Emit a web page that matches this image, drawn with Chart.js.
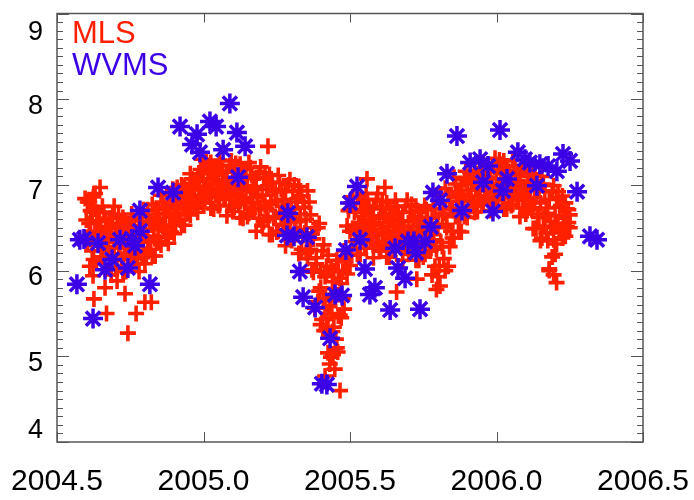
<!DOCTYPE html>
<html>
<head>
<meta charset="utf-8">
<title>MLS / WVMS water vapour</title>
<script src="https://cdn.jsdelivr.net/npm/chart.js@4.4.1/dist/chart.umd.min.js"></script>
<style>
  html, body { margin: 0; padding: 0; background: #fff; }
  canvas { display: block; }
</style>
</head>
<body>
<canvas id="wv-chart" width="694" height="500"></canvas>
<script>
// MLS sampling dates near the station, decimal year
const mlsYear = [
  2004.600, 2004.605, 2004.610, 2004.615, 2004.620, 2004.625, 2004.630, 2004.635, 2004.640, 2004.645,
  2004.650, 2004.655, 2004.660, 2004.665, 2004.670, 2004.675, 2004.680, 2004.685, 2004.690, 2004.695,
  2004.700, 2004.705, 2004.710, 2004.715, 2004.720, 2004.725, 2004.730, 2004.735, 2004.740, 2004.745,
  2004.750, 2004.755, 2004.760, 2004.765, 2004.770, 2004.775, 2004.780, 2004.785, 2004.790, 2004.795,
  2004.800, 2004.805, 2004.810, 2004.815, 2004.820, 2004.825, 2004.830, 2004.835, 2004.840, 2004.845,
  2004.850, 2004.855, 2004.860, 2004.865, 2004.870, 2004.875, 2004.880, 2004.885, 2004.890, 2004.895,
  2004.900, 2004.905, 2004.910, 2004.915, 2004.920, 2004.925, 2004.930, 2004.935, 2004.940, 2004.945,
  2004.950, 2004.955, 2004.960, 2004.965, 2004.970, 2004.975, 2004.980, 2004.985, 2004.990, 2004.995,
  2005.000, 2005.005, 2005.010, 2005.015, 2005.020, 2005.025, 2005.030, 2005.035, 2005.040, 2005.045,
  2005.050, 2005.055, 2005.060, 2005.065, 2005.070, 2005.075, 2005.080, 2005.085, 2005.090, 2005.095,
  2005.100, 2005.105, 2005.110, 2005.115, 2005.120, 2005.125, 2005.130, 2005.135, 2005.140, 2005.145,
  2005.150, 2005.155, 2005.160, 2005.165, 2005.170, 2005.175, 2005.180, 2005.185, 2005.190, 2005.195,
  2005.200, 2005.205, 2005.210, 2005.215, 2005.220, 2005.225, 2005.230, 2005.235, 2005.240, 2005.245,
  2005.250, 2005.255, 2005.260, 2005.265, 2005.270, 2005.275, 2005.280, 2005.285, 2005.290, 2005.295,
  2005.300, 2005.305, 2005.310, 2005.315, 2005.320, 2005.325, 2005.330, 2005.335, 2005.340, 2005.345,
  2005.350, 2005.355, 2005.360, 2005.365, 2005.370, 2005.375, 2005.380, 2005.385, 2005.390, 2005.395,
  2005.400, 2005.405, 2005.410, 2005.415, 2005.420, 2005.425, 2005.430, 2005.435, 2005.440, 2005.445,
  2005.450, 2005.455, 2005.460, 2005.465, 2005.470, 2005.475, 2005.480, 2005.485, 2005.490, 2005.495,
  2005.500, 2005.505, 2005.510, 2005.515, 2005.520, 2005.525, 2005.530, 2005.535, 2005.540, 2005.545,
  2005.550, 2005.555, 2005.560, 2005.565, 2005.570, 2005.575, 2005.580, 2005.585, 2005.590, 2005.595,
  2005.600, 2005.605, 2005.610, 2005.615, 2005.620, 2005.625, 2005.630, 2005.635, 2005.640, 2005.645,
  2005.650, 2005.655, 2005.660, 2005.665, 2005.670, 2005.675, 2005.680, 2005.685, 2005.690, 2005.695,
  2005.700, 2005.705, 2005.710, 2005.715, 2005.720, 2005.725, 2005.730, 2005.735, 2005.740, 2005.745,
  2005.750, 2005.755, 2005.760, 2005.765, 2005.770, 2005.775, 2005.780, 2005.785, 2005.790, 2005.795,
  2005.800, 2005.805, 2005.810, 2005.815, 2005.820, 2005.825, 2005.830, 2005.835, 2005.840, 2005.845,
  2005.850, 2005.855, 2005.860, 2005.865, 2005.870, 2005.875, 2005.880, 2005.885, 2005.890, 2005.895,
  2005.900, 2005.905, 2005.910, 2005.915, 2005.920, 2005.925, 2005.930, 2005.935, 2005.940, 2005.945,
  2005.950, 2005.955, 2005.960, 2005.965, 2005.970, 2005.975, 2005.980, 2005.985, 2005.990, 2005.995,
  2006.000, 2006.005, 2006.010, 2006.015, 2006.020, 2006.025, 2006.030, 2006.035, 2006.040, 2006.045,
  2006.050, 2006.055, 2006.060, 2006.065, 2006.070, 2006.075, 2006.080, 2006.085, 2006.090, 2006.095,
  2006.100, 2006.105, 2006.110, 2006.115, 2006.120, 2006.125, 2006.130, 2006.135, 2006.140, 2006.145,
  2006.150, 2006.155, 2006.160, 2006.165, 2006.170, 2006.175, 2006.180, 2006.185, 2006.190, 2006.195,
  2006.200, 2006.205, 2006.210, 2006.215, 2006.220, 2006.225, 2006.230, 2006.235, 2006.240, 2006.245,
  2006.250
];

// MLS water vapour (ppmv), first overpass of each date
const mlsFirst = [
  6.35, 6.80, 6.55, 6.70, 6.23, 6.72, 6.44, 6.09, 6.58, 6.30,
  6.47, 6.16, 6.68, 6.33, 6.51, 6.26, 6.61, 6.40, 6.19, 6.75,
  6.02, 6.55, 6.27, 6.44, 6.13, 6.62, 6.34, 5.99, 6.48, 6.20,
  6.37, 6.06, 6.58, 6.23, 6.41, 6.16, 6.51,
  6.35, 6.15, 6.71, 6.08, 6.62, 6.36, 6.55, 6.25, 6.77, 6.48, 6.17, 6.66, 6.40, 6.57,
  6.30, 6.80, 6.50, 6.67, 6.46, 6.79, 6.62, 6.45, 6.95, 6.43,
  6.89, 6.67, 6.83, 6.59, 7.00, 6.79, 6.53, 6.93, 6.72, 6.88,
  6.65, 7.07, 6.82, 6.97, 6.80, 7.07, 6.94, 6.80,
  7.30, 6.79, 7.21, 6.98, 7.13, 6.86, 7.26, 7.02, 6.72, 7.14,
  6.89, 7.05, 6.76, 7.23, 6.91, 7.06, 6.84, 7.15, 6.96, 6.76,
  7.28, 6.69, 7.17, 6.91, 7.08, 6.77, 7.24, 6.97, 6.61, 7.10,
  6.82, 6.99, 6.67, 7.20,
  6.80, 6.98, 6.71, 7.08, 6.85, 6.61, 7.21, 6.52, 7.08, 6.76,
  6.95, 6.60, 7.12, 6.81, 6.42, 6.95, 6.63, 6.82, 6.46, 7.03,
  6.64, 6.83, 6.54, 6.92, 6.69, 6.45, 7.06, 6.35, 6.93, 6.61,
  6.80, 6.43, 6.98, 6.66, 6.25, 6.80,
  6.44, 6.60, 6.14, 6.80, 6.25, 6.43, 5.98, 6.50, 6.08, 5.64,
  6.55, 5.37, 6.23, 5.68, 5.93, 5.32, 6.18, 5.65, 4.99, 5.87,
  5.34, 5.65, 5.10, 5.99, 5.48, 5.85, 5.67, 6.23, 6.10, 5.96,
  6.70, 6.06,
  6.79, 6.49, 6.68, 6.34, 6.86, 6.56, 6.19, 6.71, 6.41, 6.60,
  6.26, 6.83, 6.45, 6.64, 6.38, 6.75, 6.53, 6.30, 6.90, 6.23,
  6.72, 6.44, 6.61, 6.30, 6.79, 6.51, 6.16, 6.65, 6.37, 6.54,
  6.23, 6.75, 6.40, 6.58, 6.33, 6.68, 6.47, 6.26, 6.82, 6.19,
  6.68, 6.40, 6.57, 6.26, 6.75, 6.47, 6.12, 6.61, 6.33, 6.50,
  6.19, 6.71, 6.36, 6.54,
  6.23, 6.61, 6.36, 6.05, 6.88, 5.93, 6.78, 6.33, 6.64, 6.14,
  6.96, 6.54, 6.05, 6.81, 6.46, 6.73, 6.38, 7.01, 6.65, 6.85,
  6.63, 6.99, 6.81, 6.63,
  7.16, 6.62, 7.08, 6.86, 7.01, 6.76, 7.17, 6.95, 6.69, 7.08,
  6.87, 7.03, 6.78, 7.20, 6.93, 7.08, 6.87, 7.17, 7.00, 6.82,
  7.31, 6.76, 7.23, 6.98, 7.13, 6.85, 7.28, 7.03, 6.72, 7.16,
  6.90, 7.05, 6.77, 7.22, 6.90, 7.05, 6.82, 7.12, 6.93, 6.73,
  7.21, 6.66, 7.10, 6.85, 7.00,
  6.71, 7.13, 6.85, 6.49, 6.96, 6.62, 6.79, 6.38, 7.01, 6.52,
  6.73, 6.35, 6.83, 6.50, 6.16, 6.99, 6.19, 6.85, 6.54, 6.74,
  6.44, 6.87, 6.64, 6.40, 6.72, 6.56, 6.65
];

// MLS water vapour (ppmv), second overpass of each date
const mlsSecond = [
  6.59, 6.34, 6.80, 6.46, 6.68, 6.13, 6.44, 6.68, 6.30, 6.58,
  6.16, 6.75, 6.37, 6.61, 6.23, 6.49, 6.03, 6.42, 6.66, 6.28,
  6.40, 6.12, 6.65, 6.26, 6.51, 5.99, 6.30, 6.55, 6.16, 6.44,
  6.07, 6.66, 6.28, 6.52, 6.14, 6.45, 5.99, 6.38, 6.62, 6.23,
  6.46, 6.19, 6.71, 6.33, 6.57, 6.17, 6.48, 6.71, 6.34, 6.61,
  6.33, 6.88, 6.52, 6.75, 6.39, 6.72, 6.32, 6.66, 6.87, 6.53,
  6.76, 6.53, 6.97, 6.65, 6.85, 6.53, 6.78, 6.98, 6.67, 6.89,
  6.67, 7.13, 6.83, 7.02, 6.73, 7.04, 6.68, 6.98, 7.18, 6.87,
  7.07, 6.84, 7.27, 6.95, 7.16, 6.73, 7.00, 7.20, 6.88, 7.11,
  6.76, 7.29, 6.95, 7.17, 6.83, 7.06, 6.64, 6.99, 7.22, 6.86,
  7.01, 6.74, 7.25, 6.88, 7.11, 6.62, 6.93, 7.18, 6.79, 7.07,
  6.63, 7.26, 6.85, 7.11, 6.71, 6.95, 6.46, 6.88, 7.14, 6.73,
  6.88, 6.57, 7.14, 6.72, 6.99, 6.42, 6.77, 7.03, 6.61, 6.92,
  6.45, 7.11, 6.68, 6.95, 6.53, 6.80, 6.29, 6.72, 7.00, 6.57,
  6.72, 6.41, 7.00, 6.57, 6.84, 6.20, 6.58, 6.87, 6.41, 6.74,
  6.21, 6.93, 6.37, 6.65, 6.01, 6.37, 5.56, 6.15, 6.50, 5.76,
  5.99, 5.43, 6.30, 5.56, 5.95, 5.04, 5.59, 6.01, 5.29, 5.79,
  5.09, 6.12, 5.47, 5.91, 5.45, 5.99, 5.55, 6.14, 6.52, 6.18,
  6.46, 6.26, 6.86, 6.45, 6.71, 6.19, 6.53, 6.79, 6.38, 6.68,
  6.26, 6.90, 6.49, 6.75, 6.34, 6.64, 6.15, 6.56, 6.83, 6.41,
  6.56, 6.27, 6.81, 6.42, 6.67, 6.16, 6.47, 6.72, 6.33, 6.61,
  6.23, 6.82, 6.44, 6.68, 6.30, 6.58, 6.12, 6.51, 6.75, 6.37,
  6.52, 6.24, 6.77, 6.38, 6.63, 6.12, 6.43, 6.68, 6.29, 6.57,
  6.16, 6.76, 6.37, 6.62, 6.23, 6.50, 5.95, 6.42, 6.72, 6.25,
  6.51, 6.06, 6.89, 6.28, 6.67, 6.00, 6.50, 6.88, 6.28, 6.71,
  6.38, 7.09, 6.63, 6.92, 6.46, 6.89, 6.45, 6.82, 7.06, 6.69,
  6.94, 6.70, 7.15, 6.82, 7.03, 6.68, 6.94, 7.13, 6.82, 7.05,
  6.78, 7.26, 6.95, 7.15, 6.84, 7.08, 6.70, 7.02, 7.23, 6.91,
  7.07, 6.82, 7.29, 6.95, 7.17, 6.72, 7.00, 7.22, 6.88, 7.12,
  6.76, 7.29, 6.95, 7.17, 6.83, 7.03, 6.63, 6.97, 7.18, 6.84,
  6.95, 6.70, 7.16, 6.82, 7.04, 6.49, 6.80, 7.05, 6.66, 6.94,
  6.35, 7.10, 6.62, 6.92, 6.44, 6.67, 6.00, 6.57, 6.93, 6.36,
  6.64, 6.31, 6.92, 6.47, 6.76, 6.38, 6.61, 6.79, 6.51, 6.71,
  6.50
];

// scattered low/high MLS retrievals
const mlsExtraYear = [
  2004.596, 2004.630, 2004.647, 2004.624, 2004.623, 2004.626, 2004.664, 2004.669, 2004.732, 2004.742,
  2004.770, 2004.800, 2004.822, 2004.705, 2004.612, 2004.685, 2005.220, 2005.558, 2005.619, 2005.659,
  2005.728, 2005.807, 2005.795, 2006.205, 2006.195, 2006.180, 2005.466, 2005.442, 2005.431, 2005.415,
  2005.448, 2005.452, 2005.458, 2005.425, 2005.412, 2005.435, 2005.400, 2005.438, 2005.428, 2005.445,
  2005.420
];
const mlsExtraPpmv = [
  6.84, 6.90, 6.97, 6.86, 5.94, 5.67, 5.80, 5.50, 5.73, 5.27,
  5.50, 5.63, 5.63, 5.88, 6.05, 5.95, 7.45, 7.07, 6.97, 5.75,
  5.90, 5.82, 5.78, 5.86, 5.95, 6.02, 4.60, 5.02, 4.91, 4.77,
  4.85, 5.20, 5.05, 5.45, 5.30, 5.70, 5.80, 5.50, 5.25, 6.00,
  6.05
];

// WVMS ground-based microwave, decimal year / ppmv
const wvmsYear = [
  2004.568, 2004.578, 2004.592, 2004.623, 2004.640, 2004.664, 2004.688, 2004.715, 2004.742, 2004.756,
  2004.766, 2004.783, 2004.783, 2004.817, 2004.845, 2004.896, 2004.920, 2004.961, 2004.978, 2004.988,
  2005.022, 2005.043, 2005.090, 2005.114, 2005.067, 2005.142, 2005.118, 2005.288, 2005.285, 2005.309,
  2005.353, 2005.329, 2005.340, 2005.381, 2005.449, 2005.473, 2005.432, 2005.404, 2005.421, 2005.524,
  2005.500, 2005.486, 2005.534, 2005.551, 2005.585, 2005.568, 2005.637, 2005.654, 2005.664, 2005.688,
  2005.698, 2005.718, 2005.725, 2005.756, 2005.739, 2005.776, 2005.783, 2005.807, 2005.831, 2005.865,
  2005.882, 2005.910, 2005.944, 2005.971, 2005.954, 2005.988, 2006.012, 2006.036, 2006.022, 2006.073,
  2006.097, 2006.114, 2006.148, 2006.138, 2006.176, 2006.206, 2006.227, 2006.251, 2006.275, 2006.319,
  2006.343
];
const wvmsPpmv = [
  5.84, 6.36, 6.37, 5.44, 6.32, 6.01, 6.13, 6.36, 6.03, 6.37,
  6.29, 6.46, 6.70, 5.84, 6.97, 6.91, 7.68, 7.47, 7.59, 7.38,
  7.74, 7.68, 7.95, 7.61, 7.41, 7.45, 7.09, 6.67, 6.41, 6.40,
  6.39, 5.99, 5.69, 5.57, 5.72, 5.71, 5.21, 4.68, 4.67, 6.98,
  6.79, 6.24, 6.36, 6.02, 5.80, 5.72, 5.54, 6.26, 6.03, 5.91,
  6.34, 6.34, 6.21, 6.34, 5.55, 6.51, 6.91, 6.82, 7.13, 7.57,
  6.70, 7.26, 7.30, 7.22, 7.03, 6.69, 7.64, 7.07, 6.93, 7.38,
  7.30, 7.26, 7.24, 6.99, 7.22, 7.16, 7.36, 7.28, 6.92, 6.40,
  6.36
];

const xTicks = [2004.5, 2005.0, 2005.5, 2006.0, 2006.5];
const yTicks = [4, 5, 6, 7, 8, 9];

const RED = '#ff2000';
const BLUE = '#3c00e6';
const AXIS = '#555555';
const INK = '#000000';
const FONT = '"Liberation Sans", Arial, Helvetica, sans-serif';

const toPoints = (xs, ys) => xs.map((x, i) => ({ x: x, y: ys[i] }));

const mlsPoints = [
  ...toPoints(mlsYear, mlsFirst),
  ...toPoints(mlsYear, mlsSecond),
  ...toPoints(mlsExtraYear, mlsExtraPpmv),
];

// box with inward ticks on all four sides, y labels and the text legend
const idlFrame = {
  id: 'idlFrame',
  afterDraw(chart) {
    const { ctx, chartArea: area, scales } = chart;
    const x = scales.x;
    const y = scales.y;

    ctx.save();
    ctx.strokeStyle = AXIS;
    ctx.lineWidth = 1.5;
    ctx.strokeRect(area.left, area.top, area.right - area.left, area.bottom - area.top);

    ctx.beginPath();
    for (let i = 40; i <= 90; i++) {
      const py = Math.round(y.getPixelForValue(i / 10)) + 0.5;
      const len = i % 10 === 0 ? 12 : 6;
      ctx.moveTo(area.left, py);
      ctx.lineTo(area.left + len, py);
      ctx.moveTo(area.right, py);
      ctx.lineTo(area.right - len, py);
    }
    xTicks.forEach(v => {
      const px = Math.round(x.getPixelForValue(v)) + 0.5;
      ctx.moveTo(px, area.bottom);
      ctx.lineTo(px, area.bottom - 10);
      ctx.moveTo(px, area.top);
      ctx.lineTo(px, area.top + 9);
    });
    ctx.lineWidth = 1;
    ctx.stroke();

    ctx.fillStyle = INK;
    ctx.font = '27px ' + FONT;
    ctx.textAlign = 'right';
    ctx.textBaseline = 'middle';
    yTicks.forEach(v => {
      const py = Math.min(Math.max(y.getPixelForValue(v) + 7, area.top + 19), area.bottom - 11);
      ctx.fillText(String(v), area.left - 14, py);
    });

    ctx.textAlign = 'left';
    ctx.textBaseline = 'alphabetic';
    ctx.font = '31px ' + FONT;
    chart.data.datasets.forEach((ds, i) => {
      ctx.fillStyle = ds.pointBorderColor;
      ctx.fillText(ds.label, area.left + 15, area.top + 29 + i * 32);
    });
    ctx.restore();
  }
};

new Chart(document.getElementById('wv-chart'), {
  type: 'scatter',
  data: {
    datasets: [
      {
        label: 'MLS',
        data: mlsPoints,
        pointStyle: 'cross',
        pointRadius: 8,
        pointBorderWidth: 3.6,
        pointBorderColor: RED,
        pointBackgroundColor: 'transparent',
        order: 2,
      },
      {
        label: 'WVMS',
        data: toPoints(wvmsYear, wvmsPpmv),
        pointStyle: 'star',
        pointRadius: 10,
        pointBorderWidth: 3.5,
        pointBorderColor: BLUE,
        pointBackgroundColor: 'transparent',
        order: 1,
      },
    ],
  },
  options: {
    responsive: false,
    animation: false,
    events: [],
    layout: { padding: { left: 57, top: 7, right: 51, bottom: 0 } },
    plugins: {
      legend: { display: false },
      tooltip: { enabled: false },
    },
    scales: {
      x: {
        type: 'linear',
        min: 2004.5,
        max: 2006.5,
        afterBuildTicks: s => { s.ticks = xTicks.map(v => ({ value: v })); },
        // fixed box: edge labels may hang past the frame without squeezing it
        afterFit: s => {
          s.height = 58;
          s.paddingLeft = 0;
          s.paddingRight = 0;
        },
        grid: { display: false, drawTicks: false },
        border: { display: false },
        ticks: {
          padding: 22,
          color: INK,
          autoSkip: false,
          maxRotation: 0,
          font: { family: FONT, size: 30 },
          callback: v => v.toFixed(1),
        },
      },
      y: {
        display: false,
        min: 4,
        max: 9,
      },
    },
  },
  plugins: [idlFrame],
});
</script>
</body>
</html>
